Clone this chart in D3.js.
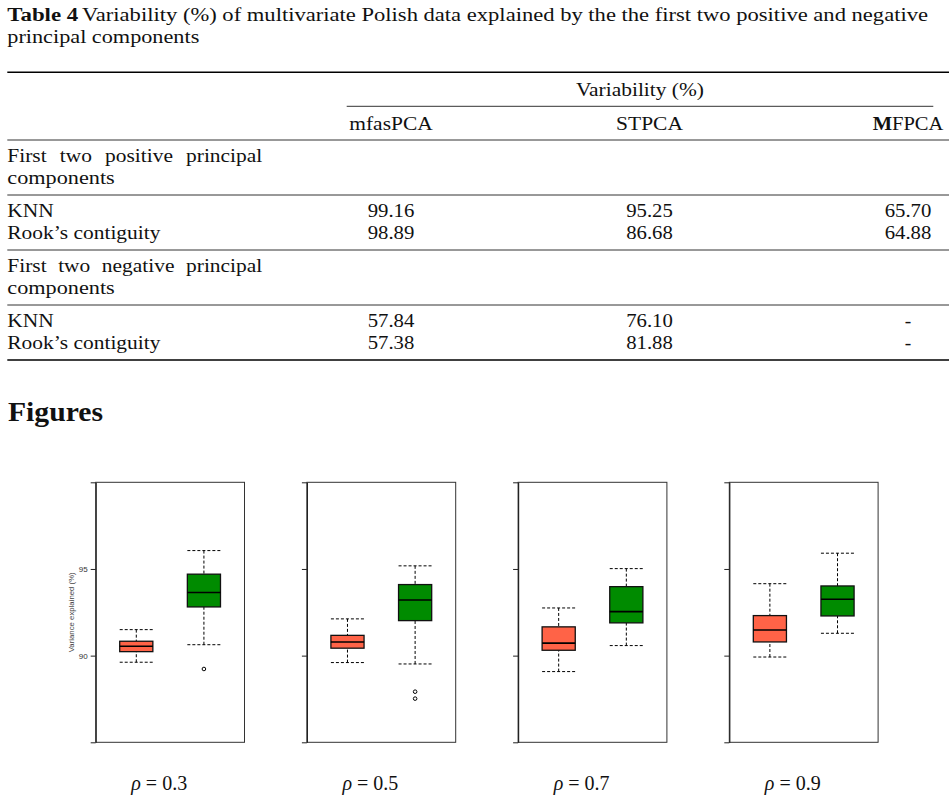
<!DOCTYPE html>
<html>
<head>
<meta charset="utf-8">
<script src="https://cdn.jsdelivr.net/npm/d3@7"></script>
<style>
    body { margin: 0; background: #fff; }
    svg { display: block; }
</style>
</head>
<body>
<script>
// Table data
const captionBold = 'Table 4';
const captionLines = [
    'Variability (%) of multivariate Polish data explained by the the first two positive and negative',
    'principal components'
];
const spanHeader = 'Variability (%)';
const methods = ['mfasPCA', 'STPCA', 'MFPCA'];
const groupLabels = ['First two positive principal components', 'First two negative principal components'];
const weightings = ['KNN', 'Rook\u2019s contiguity'];
const positiveValues = [[99.16, 95.25, 65.70], [98.89, 86.68, 64.88]];
const negativeValues = [[57.84, 76.10, null], [57.38, 81.88, null]];

// Figure data (boxplot stats: lower whisker, Q1, median, Q3, upper whisker)
const rhoValues = [0.3, 0.5, 0.7, 0.9];
const yTicks = [85, 90, 95, 100];
const yTickLabels = ['', '90', '95', ''];
const yTitle = 'Variance explained (%)';
const redStats = [
    [89.62, 90.23, 90.54, 90.83, 91.50],
    [89.60, 90.43, 90.79, 91.17, 92.12],
    [89.08, 90.31, 90.72, 91.66, 92.75],
    [89.92, 90.79, 91.48, 92.31, 94.15]
];
const greenStats = [
    [90.63, 92.81, 93.64, 94.70, 96.06],
    [89.52, 92.02, 93.21, 94.10, 95.18],
    [90.58, 91.89, 92.54, 93.98, 95.02],
    [91.29, 92.29, 93.25, 94.02, 95.91]
];
const redOutliers = [[], [], [], []];
const greenOutliers = [[89.23], [87.92, 87.52], [], []];

// Constants
const WIDTH = 949, HEIGHT = 804;
const SERIF = '"Liberation Serif", "Times New Roman", serif';
const SANS = '"Liberation Sans", Arial, sans-serif';
const FONT_SIZE = 19.5;
const CAPTION_SIZE = 18;
const STRETCH = 1.1;
const INK = '#111';
const RED = '#FF6347';
const GREEN = '#008B00';

const svg = d3.select('body').append('svg')
    .attr('width', WIDTH)
    .attr('height', HEIGHT);

// text widened to mimic the wider original face
function fitText(parent, str, x, y, opts) {
    opts = opts || {};
    const t = parent.append('text')
        .attr('x', x)
        .attr('y', y)
        .attr('font-family', SERIF)
        .attr('font-size', opts.size || FONT_SIZE)
        .attr('font-weight', opts.weight || 'normal')
        .attr('text-anchor', opts.anchor || 'start')
        .attr('fill', INK)
        .text(str);
    const w = opts.width || t.node().getComputedTextLength() * (opts.stretch || STRETCH);
    t.attr('textLength', w).attr('lengthAdjust', 'spacingAndGlyphs');
    return t;
}

function justified(parent, str, x0, x1, y) {
    const words = str.split(' ');
    const nodes = words.map((w) => fitText(parent, w, 0, y));
    const widths = nodes.map((n) => +n.attr('textLength'));
    const gap = (x1 - x0 - d3.sum(widths)) / (words.length - 1);
    let x = x0;
    nodes.forEach((n, i) => {
        n.attr('x', x);
        x += widths[i] + gap;
    });
}

function rule(parent, x1, x2, y, w) {
    parent.append('line')
        .attr('x1', x1).attr('x2', x2)
        .attr('y1', y).attr('y2', y)
        .attr('stroke', w > 1 ? '#000' : '#333')
        .attr('stroke-width', w);
}

drawTable();
drawFigures();

function drawTable() {
    const g = svg.append('g').attr('class', 'table');
    const LEFT = 7.3, RIGHT = WIDTH;
    const ROW_H = 22;

    // Caption
    fitText(g, captionBold, LEFT, 20.5, {weight: 'bold', size: CAPTION_SIZE, width: 71});
    fitText(g, captionLines[0], 82, 20.5, {size: CAPTION_SIZE, width: 846});
    fitText(g, captionLines[1], LEFT, 43, {size: CAPTION_SIZE, width: 192});

    const col = d3.scalePoint()
        .domain(methods)
        .range([391, 908]);
    const fmt = d3.format('.2f');

    // Header
    rule(g, LEFT, RIGHT, 72.3, 1.6);
    fitText(g, spanHeader, (346.7 + 933.3) / 2, 96, {anchor: 'middle'});
    rule(g, 346.7, 933.3, 106.3, 1);
    methods.forEach((m) => {
        if (m === 'MFPCA') {
            // bold initial as in the source
            const t = g.append('text')
                .attr('x', col(m))
                .attr('y', 130)
                .attr('font-family', SERIF)
                .attr('font-size', FONT_SIZE)
                .attr('text-anchor', 'middle')
                .attr('fill', INK)
                .attr('textLength', 70.7)
                .attr('lengthAdjust', 'spacingAndGlyphs');
            t.append('tspan').attr('font-weight', 'bold').text(m[0]);
            t.append('tspan').text(m.slice(1));
        } else {
            fitText(g, m, col(m), 130, {anchor: 'middle'});
        }
    });

    // Body
    let y = 140;
    rule(g, LEFT, RIGHT, y, 1);
    [positiveValues, negativeValues].forEach((values, gi) => {
        const words = groupLabels[gi].split(' ');
        justified(g, words.slice(0, -1).join(' '), LEFT, 262.3, y + ROW_H);
        fitText(g, words[words.length - 1], LEFT, y + ROW_H * 2, {stretch: 1.14});
        y += ROW_H * 2 + 11;
        rule(g, LEFT, RIGHT, y, 1);

        values.forEach((row, ri) => {
            const by = y + ROW_H * (ri + 1);
            fitText(g, weightings[ri], LEFT, by);
            row.forEach((v, ci) => {
                if (v === null) {
                    g.append('text')
                        .attr('x', col(methods[ci]))
                        .attr('y', by)
                        .attr('font-family', SERIF)
                        .attr('font-size', FONT_SIZE)
                        .attr('text-anchor', 'middle')
                        .attr('fill', INK)
                        .text('-');
                } else {
                    fitText(g, fmt(v), col(methods[ci]), by, {anchor: 'middle', width: 46.7});
                }
            });
        });
        y += ROW_H * 2 + 11;
        rule(g, LEFT, RIGHT, y, gi === 1 ? 1.4 : 1);
    });

    // Section heading
    fitText(g, 'Figures', 8, 421, {weight: 'bold', size: 27, width: 95});
}

function drawFigures() {
    const PANEL_X0 = 95.7, PANEL_STEP = 211.2;
    const PANEL_W = 148.8, PANEL_H = 260, PANEL_TOP = 482.3;
    const BOX_HALF = 0.245;

    const y = d3.scaleLinear()
        .domain([85, 100])
        .range([PANEL_H, 0]);
    const x = d3.scaleLinear()
        .domain([0.4, 2.6])
        .range([0, PANEL_W]);

    rhoValues.forEach((rho, i) => {
        const px = PANEL_X0 + PANEL_STEP * i;
        const g = svg.append('g')
            .attr('class', 'panel')
            .attr('transform', 'translate(' + px + ',' + PANEL_TOP + ')');

        // Frame
        g.append('rect')
            .attr('width', PANEL_W)
            .attr('height', PANEL_H)
            .attr('fill', 'none')
            .attr('stroke', '#333')
            .attr('stroke-width', 1);

        // Axis
        const axis = g.append('g')
            .call(d3.axisLeft(y)
                .tickValues(yTicks)
                .tickSize(5)
                .tickSizeOuter(0)
                .tickPadding(3)
                .tickFormat((d, k) => i === 0 ? yTickLabels[k] : ''));
        axis.attr('font-family', SANS).attr('font-size', 8);
        axis.select('.domain').attr('stroke', '#222').attr('stroke-width', 1.2);
        axis.selectAll('.tick line').attr('stroke', '#222');
        axis.selectAll('.tick text').attr('fill', '#333');

        if (i === 0) {
            g.append('text')
                .attr('transform', 'translate(-22.2,' + PANEL_H / 2 + ') rotate(-90)')
                .attr('text-anchor', 'middle')
                .attr('font-family', SANS)
                .attr('font-size', 7.8)
                .attr('fill', '#444')
                .text(yTitle);
        }

        // Boxes
        [[redStats[i], redOutliers[i], RED], [greenStats[i], greenOutliers[i], GREEN]].forEach((b, k) => {
            const s = b[0], c = k + 1;
            const bg = g.append('g');
            const xl = x(c - BOX_HALF), xr = x(c + BOX_HALF), xc = x(c);

            // whiskers and staples
            [[s[0], s[1]], [s[4], s[3]]].forEach((w) => {
                bg.append('line')
                    .attr('x1', xc).attr('x2', xc)
                    .attr('y1', y(w[0])).attr('y2', y(w[1]))
                    .attr('stroke', '#000')
                    .attr('stroke-dasharray', '3,2');
                bg.append('line')
                    .attr('x1', xl).attr('x2', xr)
                    .attr('y1', y(w[0])).attr('y2', y(w[0]))
                    .attr('stroke', '#000')
                    .attr('stroke-dasharray', '3,2');
            });

            bg.append('rect')
                .attr('x', xl)
                .attr('y', y(s[3]))
                .attr('width', xr - xl)
                .attr('height', y(s[1]) - y(s[3]))
                .attr('fill', b[2])
                .attr('stroke', '#111')
                .attr('stroke-width', 1.3);
            bg.append('line')
                .attr('x1', xl).attr('x2', xr)
                .attr('y1', y(s[2])).attr('y2', y(s[2]))
                .attr('stroke', '#000')
                .attr('stroke-width', 1.6);

            bg.selectAll('circle')
                .data(b[1])
                .enter().append('circle')
                    .attr('cx', xc)
                    .attr('cy', (d) => y(d))
                    .attr('r', 1.8)
                    .attr('fill', 'none')
                    .attr('stroke', '#000');
        });

        // Caption
        const t = svg.append('text')
            .attr('x', px + 63.5)
            .attr('y', 790)
            .attr('text-anchor', 'middle')
            .attr('font-family', SERIF)
            .attr('font-size', 20)
            .attr('fill', INK);
        t.append('tspan').attr('font-style', 'italic').text('\u03C1');
        t.append('tspan').text(' = ' + rho);
    });
}
</script>
</body>
</html>
